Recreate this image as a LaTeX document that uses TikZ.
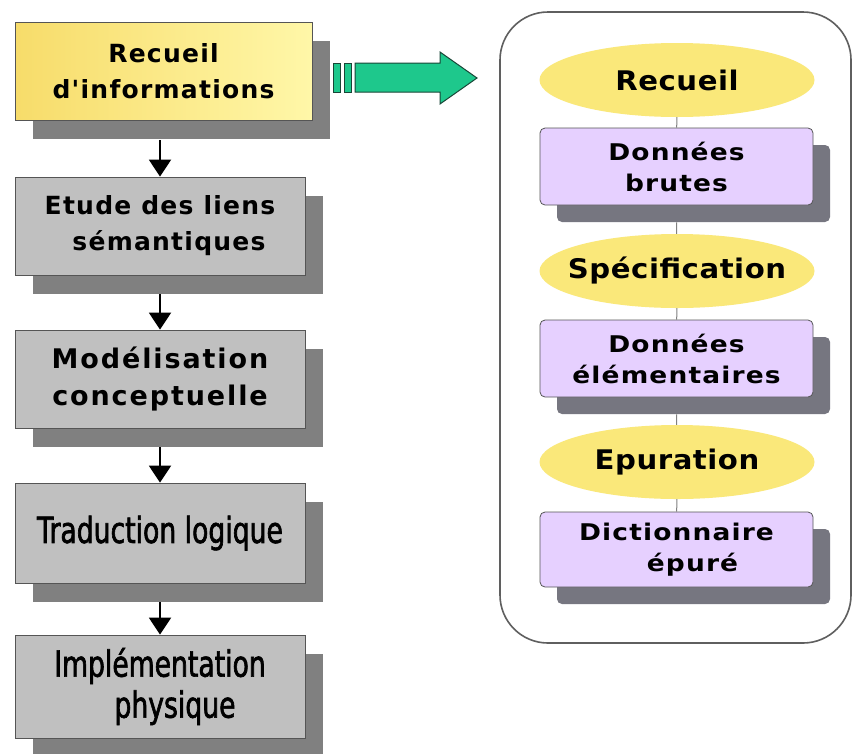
\documentclass[tikz,border=0pt]{standalone}
\usepackage{fontspec}
\setmainfont{DejaVu Sans}
\newfontfamily\bw[LetterSpace=5]{DejaVu Sans}
\newfontfamily\bwb[LetterSpace=7]{DejaVu Sans}
\newfontfamily\bwide[LetterSpace=5,FakeStretch=1.15]{DejaVu Sans}
\newfontfamily\ellf[LetterSpace=2,FakeStretch=1.08]{DejaVu Sans}
\newfontfamily\cond[FakeStretch=0.74,FakeBold=1.8]{DejaVu Sans}
\usetikzlibrary{shadows,arrows.meta,shapes.geometric}
\definecolor{shadowgray}{RGB}{128,128,128}
\definecolor{pshadow}{RGB}{118,118,128}
\definecolor{boxgray}{RGB}{192,192,192}
\definecolor{edgegray}{RGB}{85,85,85}
\definecolor{ylA}{RGB}{247,220,106}
\definecolor{ylB}{RGB}{255,247,168}
\definecolor{ellY}{RGB}{250,232,122}
\definecolor{purp}{RGB}{230,208,255}
\definecolor{frameC}{RGB}{95,95,95}
\definecolor{arrowG}{RGB}{30,200,140}
\definecolor{arrowD}{RGB}{25,70,55}
\begin{document}
\begin{tikzpicture}[x=1pt,y=-1pt,
  leftbox/.style={draw=edgegray, line width=0.8pt, fill=boxgray, minimum width=290pt,
    minimum height=98pt, inner sep=0pt, align=center,
    drop shadow={shadow xshift=18pt, shadow yshift=-19pt, fill=shadowgray, opacity=1}},
  lfont/.style={font=\bw\bfseries\fontsize{25}{36}\selectfont},
  lfontb/.style={font=\bwb\bfseries\fontsize{27}{37}\selectfont},
  cfont/.style={font=\cond\fontsize{36}{41}\selectfont},
  ell/.style={ellipse, fill=ellY, minimum width=275pt, minimum height=74pt,
    inner xsep=-50pt, inner ysep=0pt,
    font=\ellf\bfseries\fontsize{27}{32}\selectfont},
  pbox/.style={draw=edgegray, line width=0.8pt, fill=purp, rounded corners=5pt,
    minimum width=273pt, minimum height=77pt, inner sep=0pt, align=center,
    font=\bwide\bfseries\fontsize{23}{31}\selectfont,
    drop shadow={shadow xshift=17pt, shadow yshift=-17pt, fill=pshadow, opacity=1}},
  conn/.style={line width=2pt, -{Triangle[width=22pt,length=17pt]}},
  vline/.style={draw=gray, line width=1pt}
]
\useasboundingbox (0,0) rectangle (853,753);
\fill[white] (0,0) rectangle (853,753);

% left column
\node[leftbox, lfont, minimum width=297pt, left color=ylA, right color=ylB] (b1) at (163.5,71) {Recueil\\d'informations};
\node[leftbox, lfont] (b2) at (160,226) {Etude des liens\\\hspace*{18pt}sémantiques};
\node[leftbox, lfontb] (b3) at (160,379) {Modélisation\\conceptuelle};
\node[leftbox, cfont, minimum height=100pt] (b4) at (160,533) {Traduction logique};
\node[leftbox, cfont, minimum height=103pt] (b5) at (160,686.5) {Implémentation\\\hspace*{30pt}physique};

\draw[conn] ([yshift=-20pt]b1.south -| b2.north) -- (b2.north);
\draw[conn] ([yshift=-19pt]b2.south) -- (b3.north);
\draw[conn] ([yshift=-19pt]b3.south) -- (b4.north);
\draw[conn] ([yshift=-19pt]b4.south) -- (b5.north);

% green arrow
\filldraw[fill=arrowG, draw=arrowD, line width=1pt]
  (355,63) -- (440,63) -- (440,52) -- (477,78) -- (440,104) -- (440,92) -- (355,92) -- cycle;
\filldraw[fill=arrowG, draw=arrowD, line width=1pt] (333,63) rectangle (340,92);
\filldraw[fill=arrowG, draw=arrowD, line width=1pt] (344,63) rectangle (351,92);

% right frame
\node[draw=frameC, line width=1.6pt, rounded corners=48pt, fill=white,
  minimum width=351pt, minimum height=631pt, inner sep=0pt] (frame) at (675.5,327.5) {};

\node[ell] (e1) at (677,80) {Recueil};
\node[pbox] (p1) at (676.5,166.5) {Données\\brutes};
\node[ell] (e2) at (677,271) {Spécification};
\node[pbox] (p2) at (676.5,358.5) {Données\\élémentaires};
\node[ell] (e3) at (677,462) {Epuration};
\node[pbox, minimum height=75pt] (p3) at (676.5,549.5) {Dictionnaire\\\hspace*{32pt}épuré};

\draw[vline] (e1) -- (p1);
\draw[vline] ([yshift=-17pt]p1.south) -- (e2);
\draw[vline] (e2) -- (p2);
\draw[vline] ([yshift=-17pt]p2.south) -- (e3);
\draw[vline] (e3) -- (p3);
\end{tikzpicture}
\end{document}
